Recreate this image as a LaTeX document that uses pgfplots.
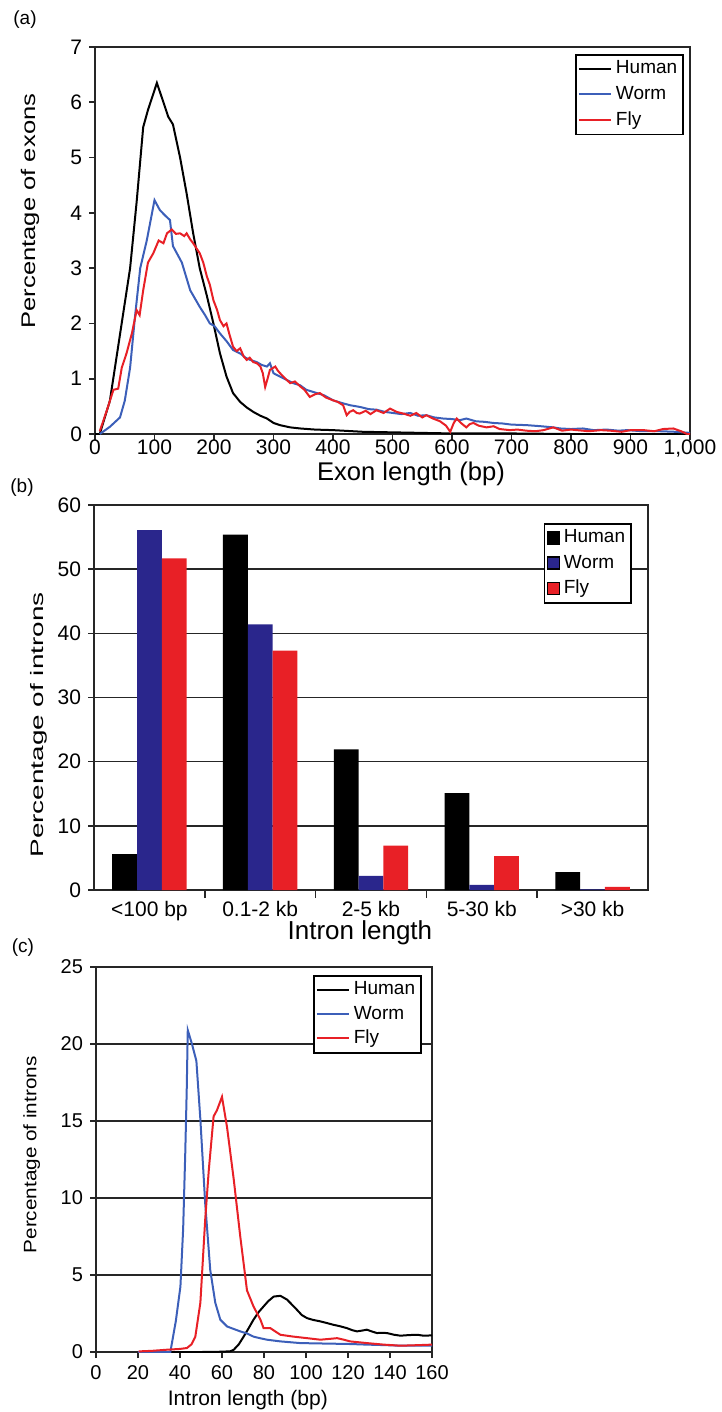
\documentclass[border=0pt]{standalone}
\usepackage{fontspec}
\setmainfont{Liberation Sans}
\usepackage{graphicx}
\usepackage{pgfplots}
\pgfplotsset{compat=1.18}

\definecolor{worm}{RGB}{60,95,185}
\definecolor{wormbar}{RGB}{42,38,140}
\definecolor{fly}{RGB}{232,32,38}

\pgfplotsset{
  common/.style={
    scale only axis,
    axis line style={black!85, line width=0.9pt},
    tick style={black!85, line width=0.8pt},
    tick align=outside,
    tick pos=left,
    major tick length=3pt,
    /pgf/number format/assume math mode=true,
    legend cell align=left,
  },
  lineleg/.style={
    legend image code/.code={\draw[##1] (0pt,0pt) -- (16pt,0pt);},
  },
}

\begin{document}
\begin{tikzpicture}
\path[use as bounding box] (0pt,0pt) rectangle (361pt,-706pt);

% panel labels
\node[font=\fontsize{9.5}{11}\selectfont] at (12.5pt,-10pt) {(a)};
\node[font=\fontsize{9.5}{11}\selectfont] at (11pt,-244pt) {(b)};
\node[font=\fontsize{9.5}{11}\selectfont] at (11.5pt,-474pt) {(c)};

% ---------------- (a) ----------------
\begin{axis}[common, lineleg,
  at={(47.5pt,-217pt)}, anchor=south west,
  width=297.5pt, height=193.5pt,
  xmin=0, xmax=1000, ymin=0, ymax=7,
  xtick={0,100,...,1000}, ytick={0,1,...,7},
  tick label style={font=\fontsize{10.5}{12}\selectfont},
  xticklabel style={yshift=3.5pt},
  xlabel={Exon length (bp)},
  ylabel={\scalebox{1.3}[1]{Percentage of exons}},
  xlabel style={at={(axis description cs:0.531,-0.103)}, anchor=center, font=\fontsize{12.8}{14}\selectfont},
  ylabel style={at={(axis description cs:-0.109,0.576)}, anchor=center, font=\fontsize{9.85}{12}\selectfont},
  legend style={at={(rel axis cs:0.807,0.982)}, anchor=north west, draw=black, line width=0.8pt,
    font=\fontsize{9.5}{11}\selectfont, inner sep=1pt, row sep=0.75pt},
]
\addplot[black, line width=1pt] coordinates {
(0,0) (8,0) (25,0.6) (42,1.8) (59,3.0) (70,4.2) (81,5.55) (89,5.86) (104,6.35)
(115,6.0) (123,5.74) (131,5.6) (143,5.0) (154,4.35) (165,3.63) (176,3.0)
(188,2.5) (199,2.0) (210,1.46) (221,1.04) (232,0.74) (244,0.58) (255,0.48)
(266,0.40) (278,0.33) (289,0.28) (300,0.2) (311,0.16) (328,0.12) (345,0.10)
(370,0.08) (400,0.07) (450,0.04) (500,0.03) (550,0.02) (600,0.01) (700,0.01)
(800,0.0) (1000,0.0)};
\addlegendentry{Human}
\addplot[worm, line width=1pt] coordinates {
(8,0) (25,0.13) (42,0.3) (50,0.6) (59,1.2) (67,2.1) (76,3.0) (87,3.5) (100,4.23)
(109,4.05) (118,3.95) (126,3.87) (131,3.4) (146,3.1) (153,2.85) (160,2.6)
(168,2.45) (176,2.3) (185,2.15) (193,2.0) (201,1.95) (210,1.82) (221,1.68)
(232,1.52) (245,1.45) (253,1.38) (261,1.34) (272,1.3) (280,1.25) (289,1.22)
(294,1.28) (300,1.1) (305,1.07) (318,1.0) (333,0.92) (345,0.88) (355,0.8)
(373,0.74) (385,0.7) (400,0.61) (415,0.56) (429,0.52) (445,0.49) (460,0.45)
(473,0.44) (487,0.4) (501,0.38) (515,0.36) (530,0.38) (543,0.33) (557,0.34)
(570,0.3) (585,0.28) (600,0.27) (613,0.25) (624,0.28) (640,0.23) (655,0.22)
(669,0.2) (685,0.19) (700,0.17) (726,0.16) (750,0.14) (770,0.12) (782,0.1)
(800,0.09) (820,0.1) (838,0.07) (860,0.08) (880,0.06) (894,0.07) (920,0.05)
(950,0.05) (975,0.04) (1000,0.02)};
\addlegendentry{Worm}
\addplot[fly, line width=1pt] coordinates {
(8,0.05) (20,0.43) (31,0.8) (39,0.82) (45,1.2) (53,1.46) (62,1.82) (70,2.24)
(75,2.15) (81,2.6) (89,3.1) (98,3.27) (107,3.5) (115,3.45) (121,3.63) (129,3.7)
(136,3.62) (143,3.63) (150,3.58) (154,3.63) (160,3.52) (165,3.45) (176,3.27)
(182,3.1) (188,2.85) (193,2.7) (199,2.42) (205,2.25) (210,2.06) (216,1.95)
(221,2.0) (226,1.8) (232,1.58) (238,1.5) (244,1.55) (250,1.4) (255,1.34)
(260,1.38) (266,1.3) (272,1.28) (278,1.22) (282,1.1) (286,0.85) (290,1.0)
(294,1.16) (300,1.2) (303,1.22) (307,1.15) (311,1.1) (320,1.0) (328,0.92)
(336,0.95) (345,0.86) (352,0.8) (361,0.67) (370,0.72) (378,0.74) (388,0.66)
(400,0.61) (408,0.58) (417,0.52) (423,0.34) (428,0.4) (434,0.43) (440,0.38)
(445,0.37) (455,0.42) (463,0.36) (473,0.43) (485,0.38) (496,0.46) (507,0.4)
(518,0.37) (530,0.33) (540,0.38) (550,0.3) (557,0.34) (568,0.28) (580,0.23)
(590,0.15) (597,0.04) (603,0.2) (608,0.28) (615,0.2) (624,0.12) (630,0.18)
(636,0.2) (645,0.15) (658,0.12) (670,0.14) (680,0.09) (697,0.07) (710,0.08)
(725,0.06) (740,0.05) (754,0.07) (770,0.12) (785,0.06) (800,0.08) (810,0.07)
(830,0.05) (850,0.07) (866,0.06) (885,0.04) (900,0.07) (922,0.07) (940,0.05)
(955,0.09) (972,0.1) (985,0.05) (995,0) (1000,0)};
\addlegendentry{Fly}
\end{axis}

% ---------------- (b) ----------------
\begin{axis}[common,
  at={(47pt,-445pt)}, anchor=south west,
  width=277pt, height=192.5pt,
  xmin=-0.5, xmax=4.5, ymin=0, ymax=60,
  ybar=0pt, bar width=12.4pt,
  xtick={0,1,2,3,4},
  xticklabels={{<100 bp},{0.1-2 kb},{2-5 kb},{5-30 kb},{>30 kb}},
  minor xtick={0.5,1.5,2.5,3.5},
  major x tick style={draw=none},
  minor tick length=4pt,
  ytick={0,10,...,60},
  ymajorgrids, grid style={black!85, line width=0.8pt},
  tick label style={font=\fontsize{10.5}{12}\selectfont},
  xticklabel style={yshift=1pt},
  xlabel={Intron length},
  ylabel={\scalebox{1.55}[1]{Percentage of introns}},
  xlabel style={at={(axis description cs:0.480,-0.112)}, anchor=center, font=\fontsize{13}{15}\selectfont},
  ylabel style={at={(axis description cs:-0.100,0.429)}, anchor=center, font=\fontsize{9}{11}\selectfont},
  legend image code/.code={\draw[#1, draw=black, line width=0.6pt] (0pt,-3pt) rectangle (6pt,3pt);},
  legend style={at={(rel axis cs:0.812,0.953)}, anchor=north west, draw=black, line width=0.8pt,
    font=\fontsize{9.5}{11}\selectfont, inner sep=1pt, row sep=0.5pt,
    /tikz/every even column/.style={column sep=0pt}},
]
\addplot[fill=black, draw=none] coordinates {(0,5.6) (1,55.4) (2,21.9) (3,15.1) (4,2.8)};
\addlegendentry{Human}
\addplot[fill=wormbar, draw=none] coordinates {(0,56.1) (1,41.4) (2,2.2) (3,0.8) (4,0.1)};
\addlegendentry{Worm}
\addplot[fill=fly, draw=none] coordinates {(0,51.7) (1,37.3) (2,6.9) (3,5.3) (4,0.5)};
\addlegendentry{Fly}
\end{axis}

% ---------------- (c) ----------------
\begin{axis}[common, lineleg,
  at={(48pt,-676pt)}, anchor=south west,
  width=168pt, height=192.5pt,
  xmin=0, xmax=160, ymin=0, ymax=25,
  xtick={0,20,...,160}, ytick={0,5,...,25},
  ymajorgrids, grid style={black!85, line width=0.8pt},
  tick label style={font=\fontsize{10}{12}\selectfont},
  xlabel={Intron length (bp)},
  ylabel={\scalebox{1.15}[1]{Percentage of introns}},
  xlabel style={at={(axis description cs:0.452,-0.125)}, anchor=center, font=\fontsize{10.5}{12}\selectfont},
  ylabel style={at={(axis description cs:-0.191,0.512)}, anchor=center, font=\fontsize{9}{11}\selectfont},
  legend style={at={(rel axis cs:0.646,0.979)}, anchor=north west, draw=black, line width=0.8pt, fill=white,
    font=\fontsize{9.5}{11}\selectfont, inner sep=1pt, row sep=0pt},
]
\addplot[black, line width=1pt] coordinates {
(34,0) (50,0) (60,0.02) (64,0.05) (65.6,0.15) (68,0.5) (70.3,1.0) (72.5,1.5)
(75,2.1) (77.5,2.6) (79.8,2.96) (82,3.3) (84.6,3.6) (87.8,3.65) (91,3.4)
(93.5,3.05) (95.7,2.74) (98,2.4) (100.5,2.2) (103.5,2.08) (106.8,1.99) (110,1.88)
(113,1.77) (116,1.68) (119.5,1.55) (122,1.42) (124.3,1.34) (127,1.4) (129,1.45)
(131,1.35) (133.8,1.23) (136,1.25) (138.6,1.23) (142,1.12) (145,1.06) (149,1.1)
(153,1.12) (156,1.06) (160,1.08)};
\addlegendentry{Human}
\addplot[worm, line width=1pt] coordinates {
(20,0) (30,0) (35.4,0) (38,2) (40.2,4.25) (41.5,8) (42.5,12.9) (43.2,17) (43.7,20.9)
(45.7,20.0) (47.8,18.9) (49.7,15.1) (52,9.65) (54.4,5.33) (56.8,3.2) (59.2,2.1)
(62.4,1.66) (65.5,1.5) (68.7,1.34) (72,1.2) (75,1.0) (78,0.9) (81.4,0.8)
(87.8,0.69) (97.3,0.58) (105,0.56) (113,0.54) (121,0.52) (129,0.48) (137,0.45)
(145,0.41) (152,0.41) (160,0.41)};
\addlegendentry{Worm}
\addplot[fly, line width=1pt] coordinates {
(20.3,0.04) (27,0.08) (33.8,0.15) (40,0.2) (43.3,0.26) (45.5,0.5) (47.3,1.0)
(49.7,3.2) (52,8.6) (53.7,11.8) (56,15.3) (57.6,15.7) (60,16.57) (62.4,14.6)
(65.6,11.2) (68.7,7.5) (71.9,4.0) (75,2.96) (78.3,2.1) (79.8,1.55) (83,1.55)
(87.8,1.12) (94,1.0) (100.5,0.9) (106.8,0.8) (111,0.85) (114.8,0.9) (118,0.8)
(121,0.69) (129,0.58) (137,0.48) (145,0.41) (152,0.44) (160,0.48)};
\addlegendentry{Fly}
\end{axis}
\end{tikzpicture}
\end{document}
